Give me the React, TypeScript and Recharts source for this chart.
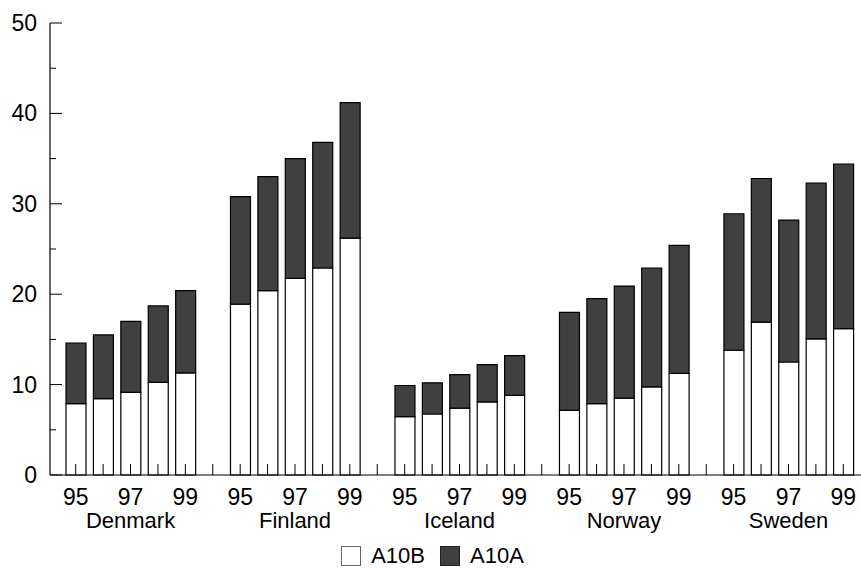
import React from 'react';
import { BarChart, Bar, XAxis, YAxis, Legend } from 'recharts';

const countries = ['Denmark', 'Finland', 'Iceland', 'Norway', 'Sweden'];
const years = ['95', '96', '97', '98', '99'];
const labelledYears = ['95', '97', '99'];

// white part (A10B), per country, 1995..1999
const a10bValues = [
  [7.9, 8.45, 9.15, 10.25, 11.3],
  [18.9, 20.4, 21.75, 22.9, 26.2],
  [6.45, 6.75, 7.4, 8.1, 8.8],
  [7.15, 7.9, 8.5, 9.75, 11.25],
  [13.8, 16.9, 12.5, 15.05, 16.2],
];

// dark part (A10A), stacked on top
const a10aValues = [
  [6.7, 7.05, 7.85, 8.45, 9.1],
  [11.9, 12.6, 13.25, 13.9, 15.0],
  [3.45, 3.45, 3.7, 4.1, 4.4],
  [10.85, 11.6, 12.4, 13.15, 14.15],
  [15.1, 15.9, 15.7, 17.25, 18.2],
];

const yTicks = [0, 5, 10, 15, 20, 25, 30, 35, 40, 45, 50];

const FONT = '"Liberation Sans", Arial, sans-serif';
const DARK = '#404040';

type Row = { key: string; country: string; year: string; A10B?: number; A10A?: number };

const rows: Row[] = [];
countries.forEach((c, ci) => {
  if (ci > 0) rows.push({ key: `gap${ci}`, country: '', year: '' });
  years.forEach((y, yi) => {
    rows.push({ key: `${c}-${y}`, country: c, year: y, A10B: a10bValues[ci][yi], A10A: a10aValues[ci][yi] });
  });
});

function XTick(props: any) {
  const { x, y, payload } = props;
  const row = rows.find((r) => r.key === payload.value);
  return (
    <g>
      <line x1={x} x2={x} y1={y} y2={y - 11} stroke="#000" strokeWidth={1} />
      {row && labelledYears.includes(row.year) && (
        <text x={x} y={y + 30} textAnchor="middle" fontSize={23} fontFamily={FONT} fill="#000">
          {row.year}
        </text>
      )}
      {row && row.year === '97' && (
        <text x={x} y={y + 53} textAnchor="middle" fontSize={22} fontFamily={FONT} fill="#000">
          {row.country}
        </text>
      )}
    </g>
  );
}

function YTick(props: any) {
  const { x, y, payload } = props;
  const major = payload.value % 10 === 0;
  return (
    <g>
      <line x1={x} x2={x + (major ? 12 : 6)} y1={y} y2={y} stroke="#000" strokeWidth={1} />
      {major && (
        <text x={x - 13} y={y + 8} textAnchor="end" fontSize={23} fontFamily={FONT} fill="#000">
          {payload.value}
        </text>
      )}
    </g>
  );
}

function LegendBox() {
  const item = (fill: string, border: string, label: string, gap: number) => (
    <div style={{ display: 'flex', alignItems: 'center', marginRight: gap }}>
      <div style={{ width: 18, height: 18, background: fill, border: `1px solid ${border}`, marginRight: 10 }} />
      <span style={{ fontSize: 22, fontFamily: FONT, color: '#000', lineHeight: '26px' }}>{label}</span>
    </div>
  );
  return (
    <div style={{ display: 'flex', justifyContent: 'center', alignItems: 'center', height: 26, paddingLeft: 4 }}>
      {item('#fff', '#666', 'A10B', 15)}
      {item(DARK, '#222', 'A10A', 0)}
    </div>
  );
}

export default function App() {
  return (
    <div style={{ position: 'absolute', left: 0, top: 0, width: 861, height: 569, background: '#fff' }}>
      <BarChart
        width={861}
        height={569}
        data={rows}
        margin={{ top: 23, right: 0, bottom: 0, left: 0 }}
        barSize={20}
      >
        <XAxis
          dataKey="key"
          interval={0}
          height={68}
          padding={{ left: 12, right: 4 }}
          tickSize={0}
          tickMargin={0}
          tickLine={false}
          axisLine={{ stroke: '#000', strokeWidth: 1.2 }}
          tick={<XTick />}
        />
        <YAxis
          width={50}
          domain={[0, 50]}
          ticks={yTicks}
          interval={0}
          tickSize={0}
          tickMargin={0}
          tickLine={false}
          axisLine={{ stroke: '#000', strokeWidth: 1.2 }}
          tick={<YTick />}
        />
        <Legend
          verticalAlign="bottom"
          height={26}
          wrapperStyle={{ left: 0, width: 861 }}
          content={<LegendBox />}
        />
        <Bar dataKey="A10B" stackId="s" fill="#fff" stroke="#000" strokeWidth={1.2} isAnimationActive={false} />
        <Bar dataKey="A10A" stackId="s" fill={DARK} stroke="#000" strokeWidth={1.2} isAnimationActive={false} />
      </BarChart>
    </div>
  );
}
